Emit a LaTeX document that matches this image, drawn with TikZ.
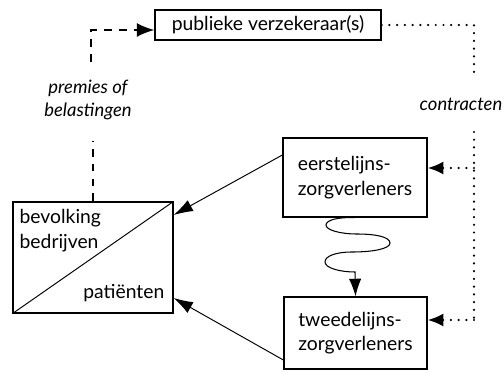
\documentclass[tikz,border=0pt]{standalone}
\usepackage{fontspec}
\setmainfont{Lato}
\usetikzlibrary{arrows.meta,calc}

\tikzset{
	box/.style={draw, line width=0.75pt, align=left, font=\fontsize{11}{14}\selectfont},
	flow/.style={line width=0.55pt, -{Latex[length=11pt,width=7pt]}},
	premie/.style={line width=1.1pt, dash pattern=on 4.5pt off 4pt},
	contract/.style={line width=1.4pt, line cap=round, dash pattern=on 0pt off 4.4pt},
	lbl/.style={font=\fontsize{10.5}{13}\selectfont\itshape, align=center}
}

\begin{document}
\begin{tikzpicture}[x=0.02cm,y=-0.02cm]
	\useasboundingbox (0,0) rectangle (504,372);

	% boxes
	\node[box, minimum width=4.52cm, minimum height=0.5cm] (verz) at (268,25) {publieke verzekeraar(s)};
	\node[box, minimum width=2.88cm, minimum height=1.58cm] (eerste) at (355,177.5) {eerstelijns-\\zorgverleners};
	\node[box, minimum width=2.86cm, minimum height=1.44cm] (tweede) at (355.5,333) {tweedelijns-\\zorgverleners};
	\node[draw, line width=0.75pt, minimum width=3.2cm, minimum height=2.22cm] (bevolk) at (93,257.5) {};
	\draw[line width=0.55pt] (bevolk.south west) -- (bevolk.north east);
	\node[box, draw=none, anchor=north west, inner sep=0pt] (burger) at (19,209) {bevolking\\bedrijven};
	\node[box, draw=none, anchor=south east, inner sep=0pt] (patient) at (165,302) {pati\"enten};

	% labels
	\node[lbl, inner sep=1pt] (premies) at (88,100) {premies of\\belastingen};
	\node[lbl, inner sep=1pt] (contr) at (461,104) {contracten};

	% premies
	\coordinate (hoek) at (91,30);
	\draw[premie] (bevolk.north) -- ++(0,-60);
	\draw[premie, -{Latex[length=10pt,width=8pt]}] (91,62) -- (hoek) -- (verz.west |- hoek);

	% contracten
	\coordinate (rechts) at (474,25);
	\coordinate (c1) at (474,78);
	\coordinate (c2) at (474,132);
	\coordinate (c3) at (474,325);
	\draw[contract] (verz.east) -- (rechts) -- (c1);
	\draw[contract] (c2) -- (c3);
	\draw[contract, -{Latex[length=9pt,width=7.5pt]}] (474,168) -- (eerste.east |- 0,168);
	\draw[contract, -{Latex[length=9pt,width=7.5pt]}] (474,320) -- (tweede.east |- 0,320);

	% zorg naar patienten
	\draw[flow] ([yshift=0.45cm]eerste.west) -- ([yshift=0.85cm]bevolk.east);
	\draw[flow] ([yshift=-0.54cm]tweede.west) -- ([yshift=-0.81cm]bevolk.east);

	% verwijzing
	\draw[line width=0.6pt, -{Latex[length=10pt,width=7pt]}] (eerste.south)
		.. controls (338,217) and (326,220) .. (326,225)
		.. controls (326,230) and (340,234) .. (357,234)
		.. controls (376,234) and (390,237) .. (390,243)
		.. controls (390,249) and (372,252) .. (352,252)
		.. controls (336,252) and (325,256) .. (325,262)
		.. controls (325,268) and (340,272) .. (355,272)
		-- (tweede.north);
\end{tikzpicture}
\end{document}
